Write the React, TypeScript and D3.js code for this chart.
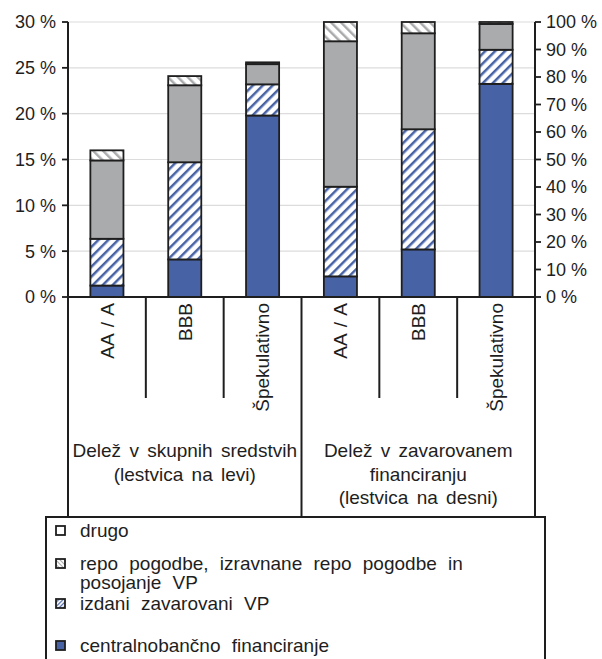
import React from "react";
import * as d3 from "d3";

// ---- data ----
const categoryIds = ["L-AA", "L-BBB", "L-SPEK", "R-AA", "R-BBB", "R-SPEK"];
const categoryLabels = ["AA / A", "BBB", "Špekulativno", "AA / A", "BBB", "Špekulativno"];
const categoryScale = ["left", "left", "left", "right", "right", "right"];

// segments from bottom to top
const centralnobancno = [1.25, 4.1, 19.8, 7.5, 17.3, 77.5];
const izdaniVP = [5.1, 10.6, 3.4, 32.6, 43.7, 12.4];
const repoSolid = [8.55, 8.4, 2.2, 52.9, 34.9, 9.4];
const drugoHatch = [1.1, 1.0, 0.2, 7.0, 4.1, 0.7];

const leftTicks = [0, 5, 10, 15, 20, 25, 30];
const rightTicks = [0, 10, 20, 30, 40, 50, 60, 70, 80, 90, 100];

const groupLabels = [
  ["Delež v skupnih sredstvih", "(lestvica na levi)"],
  ["Delež v zavarovanem", "financiranju", "(lestvica na desni)"],
];

const legendItems = [
  { key: "drugo", lines: ["drugo"] },
  { key: "repo", lines: ["repo pogodbe, izravnane repo pogodbe in", "posojanje VP"] },
  { key: "izdani", lines: ["izdani zavarovani VP"] },
  { key: "central", lines: ["centralnobančno financiranje"] },
];

const seriesKeys = ["central", "izdani", "repo", "drugo"];

const BLUE = "#4763a6";
const GRAY = "#aaabad";
const INK = "#1e1e1e";
const FONT = "'Liberation Sans', Arial, Helvetica, sans-serif";

export default function App() {
  const W = 602;
  const H = 659;
  const x0 = 68;
  const x1 = 535;
  const yTop = 22;
  const yBase = 297;

  const x = d3
    .scaleBand<string>()
    .domain(categoryIds)
    .range([x0, x1])
    .paddingInner(0.575)
    .paddingOuter(0.2875);
  const yLeft = d3.scaleLinear().domain([0, 30]).range([yBase, yTop]);
  const yRight = d3.scaleLinear().domain([0, 100]).range([yBase, yTop]);

  const rows = categoryIds.map((id, i) => ({
    id,
    central: centralnobancno[i],
    izdani: izdaniVP[i],
    repo: repoSolid[i],
    drugo: drugoHatch[i],
  }));
  const stacked = d3.stack<any>().keys(seriesKeys)(rows);

  const fillFor = (key: string) =>
    key === "central"
      ? BLUE
      : key === "izdani"
      ? "url(#hatchBlue)"
      : key === "repo"
      ? GRAY
      : "url(#hatchGray)";

  const step = x.step();
  const dividerXs = [1, 2, 4, 5].map((i) => x0 + step * i);
  const midX = x0 + step * 3;

  return (
    <svg
      width={W}
      height={H}
      style={{ position: "absolute", left: 0, top: 0, background: "#fff" }}
      fontFamily={FONT}
    >
      <defs>
        <pattern
          id="hatchBlue"
          patternUnits="userSpaceOnUse"
          width={7}
          height={7}
          patternTransform="rotate(45)"
        >
          <rect width={7} height={7} fill="#fff" />
          <line x1={0} y1={0} x2={0} y2={7} stroke={BLUE} strokeWidth={5} />
        </pattern>
        <pattern
          id="hatchGray"
          patternUnits="userSpaceOnUse"
          width={7}
          height={7}
          patternTransform="rotate(-45)"
        >
          <rect width={7} height={7} fill="#fff" />
          <line x1={0} y1={0} x2={0} y2={7} stroke={GRAY} strokeWidth={5} />
        </pattern>
        <pattern
          id="hatchBlueSmall"
          patternUnits="userSpaceOnUse"
          width={3}
          height={3}
          patternTransform="rotate(45)"
        >
          <rect width={3} height={3} fill="#fff" />
          <line x1={0} y1={0} x2={0} y2={3} stroke={BLUE} strokeWidth={2.4} />
        </pattern>
        <pattern
          id="hatchGraySmall"
          patternUnits="userSpaceOnUse"
          width={3}
          height={3}
          patternTransform="rotate(-45)"
        >
          <rect width={3} height={3} fill="#fff" />
          <line x1={0} y1={0} x2={0} y2={3} stroke={GRAY} strokeWidth={2} />
        </pattern>
      </defs>

      {/* gridlines (left scale) */}
      {leftTicks
        .filter((t) => t > 0)
        .map((t) => (
          <line
            key={"g" + t}
            x1={x0}
            x2={x1}
            y1={yLeft(t)}
            y2={yLeft(t)}
            stroke="#dcdcdc"
            strokeWidth={1.2}
          />
        ))}

      {/* bars */}
      {stacked.map((layer) => (
        <g key={layer.key}>
          {layer.map((d, i) => {
            const y = categoryScale[i] === "left" ? yLeft : yRight;
            const top = y(d[1]);
            const bot = y(d[0]);
            return (
              <rect
                key={categoryIds[i]}
                x={x(categoryIds[i])}
                y={top}
                width={x.bandwidth()}
                height={Math.max(0, bot - top)}
                fill={fillFor(layer.key)}
                stroke={INK}
                strokeWidth={1.8}
              />
            );
          })}
        </g>
      ))}

      {/* axes lines */}
      <line x1={x0} x2={x0} y1={yTop} y2={518} stroke={INK} strokeWidth={2} />
      <line x1={x1} x2={x1} y1={yTop} y2={518} stroke={INK} strokeWidth={2} />
      <line x1={x0 - 1} x2={x1 + 1} y1={yBase} y2={yBase} stroke={INK} strokeWidth={2} />
      <line x1={midX} x2={midX} y1={yBase} y2={518} stroke={INK} strokeWidth={2} />
      {dividerXs.map((dx) => (
        <line key={"d" + dx} x1={dx} x2={dx} y1={yBase} y2={398} stroke={INK} strokeWidth={2} />
      ))}

      {/* left ticks */}
      {leftTicks.map((t) => (
        <g key={"lt" + t}>
          <line x1={x0 - 6} x2={x0} y1={yLeft(t)} y2={yLeft(t)} stroke={INK} strokeWidth={1.8} />
          <text
            x={56}
            y={yLeft(t)}
            dy="0.36em"
            textAnchor="end"
            fontSize={18}
            fill={INK}
          >
            {t + " %"}
          </text>
        </g>
      ))}

      {/* right ticks */}
      {rightTicks.map((t) => (
        <g key={"rt" + t}>
          <line x1={x1} x2={x1 + 6} y1={yRight(t)} y2={yRight(t)} stroke={INK} strokeWidth={1.8} />
          <text x={546} y={yRight(t)} dy="0.36em" textAnchor="start" fontSize={18} fill={INK}>
            {t + " %"}
          </text>
        </g>
      ))}

      {/* category labels */}
      {categoryIds.map((id, i) => {
        const cx = (x(id) as number) + x.bandwidth() / 2;
        return (
          <text
            key={"c" + id}
            transform={`translate(${cx},303) rotate(-90)`}
            textAnchor="end"
            dy="0.36em"
            fontSize={19}
            fill={INK}
            style={{ wordSpacing: "2px" }}
          >
            {categoryLabels[i]}
          </text>
        );
      })}

      {/* group labels */}
      {groupLabels.map((lines, gi) => {
        const cx = gi === 0 ? (x0 + midX) / 2 : (midX + x1) / 2;
        return lines.map((ln, li) => (
          <text
            key={"gl" + gi + li}
            x={cx}
            y={457 + li * 23.5}
            textAnchor="middle"
            fontSize={19}
            fill={INK}
            style={{ wordSpacing: "3px" }}
          >
            {ln}
          </text>
        ));
      })}

      {/* legend */}
      <rect x={46} y={517} width={499} height={160} fill="none" stroke={INK} strokeWidth={2} />
      {legendItems.map((item, i) => {
        const baselines = [537, 570, 610, 652];
        const b = baselines[i];
        const iconFill =
          item.key === "drugo"
            ? "#fff"
            : item.key === "repo"
            ? "url(#hatchGraySmall)"
            : item.key === "izdani"
            ? "url(#hatchBlueSmall)"
            : BLUE;
        return (
          <g key={item.key}>
            <rect x={56} y={b - 11} width={9} height={9} fill={iconFill} stroke={INK} strokeWidth={1.8} />
            {item.lines.map((ln, li) => (
              <text
                key={li}
                x={80}
                y={b + li * 18.5}
                fontSize={19}
                fill={INK}
                style={{ wordSpacing: "6px" }}
              >
                {ln}
              </text>
            ))}
          </g>
        );
      })}
    </svg>
  );
}
